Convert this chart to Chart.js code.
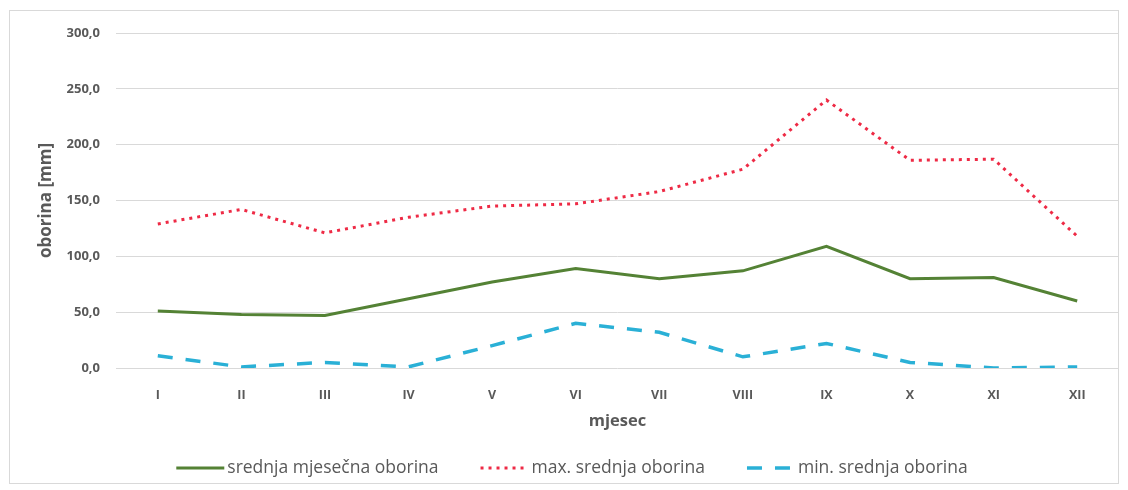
<!DOCTYPE html>
<html><head><meta charset="utf-8">
<script src="https://cdn.jsdelivr.net/npm/chart.js@4.4.0/dist/chart.umd.min.js"></script>
<style>html,body{margin:0;padding:0;background:#fff}#wrap{width:1128px;height:490px}</style>
</head><body><div id="wrap"><canvas id="c" width="1128" height="490"></canvas></div>
<script>
const months = ['I','II','III','IV','V','VI','VII','VIII','IX','X','XI','XII'];
const srednja = [51, 48, 47, 62, 77, 89, 80, 87, 109, 80, 81, 60];
const maxSrednja = [129, 142, 121, 135, 145, 147, 158, 178, 240, 186, 187, 118];
const minSrednja = [11, 1, 5, 1, 20, 40, 32, 10, 22, 5, 0, 1];
const yTicks = [0, 50, 100, 150, 200, 250, 300];

const FONT = "'Open Sans', 'Noto Sans', sans-serif";
const TXT = '#595959';

const bgBorder = {
  id: 'bgBorder',
  beforeDraw(chart) {
    const ctx = chart.ctx;
    ctx.save();
    ctx.fillStyle = '#fff';
    ctx.fillRect(0, 0, chart.width, chart.height);
    ctx.strokeStyle = '#d9d9d9';
    ctx.lineWidth = 1;
    ctx.strokeRect(9.5, 10.5, 1109, 473);
    ctx.restore();
  }
};

// legend drawn from the datasets (labels, colours, dash patterns)
const customLegend = {
  id: 'customLegend',
  afterDraw(chart) {
    const ctx = chart.ctx;
    const sets = chart.data.datasets;
    const markW = 48, gapIn = 3, gapOut = 42, centerX = 572, y = 468;
    ctx.save();
    ctx.font = "17.5px " + FONT;
    const widths = sets.map(d => ctx.measureText(d.label).width);
    const total = widths.reduce((a, b) => a + b, 0) + sets.length * (markW + gapIn) + (sets.length - 1) * gapOut;
    let x = centerX - total / 2;
    sets.forEach((d, i) => {
      ctx.beginPath();
      ctx.strokeStyle = d.borderColor;
      ctx.lineWidth = d.borderWidth;
      ctx.setLineDash(d.borderDash || []);
      ctx.moveTo(x, y);
      ctx.lineTo(x + markW, y);
      ctx.stroke();
      ctx.setLineDash([]);
      x += markW + gapIn;
      ctx.fillStyle = TXT;
      ctx.textBaseline = 'middle';
      ctx.textAlign = 'left';
      ctx.fillText(d.label, x, y);
      x += widths[i] + gapOut;
    });
    ctx.restore();
  }
};

new Chart(document.getElementById('c'), {
  type: 'line',
  data: {
    labels: months,
    datasets: [
      { label: 'srednja mjesečna oborina', data: srednja, borderColor: '#548235', backgroundColor: '#548235', borderWidth: 3, pointRadius: 0, tension: 0 },
      { label: 'max. srednja oborina', data: maxSrednja, borderColor: '#ee2a45', backgroundColor: '#ee2a45', borderWidth: 3, borderDash: [3, 5], pointRadius: 0, tension: 0 },
      { label: 'min. srednja oborina', data: minSrednja, borderColor: '#2ab0d6', backgroundColor: '#2ab0d6', borderWidth: 3.5, borderDash: [15, 13], pointRadius: 0, tension: 0 }
    ]
  },
  options: {
    responsive: false,
    animation: false,
    devicePixelRatio: 1,
    layout: { padding: { left: 30, right: 9, top: 33, bottom: 56 } },
    plugins: {
      legend: { display: false },
      tooltip: { enabled: false }
    },
    scales: {
      x: {
        offset: true,
        grid: { display: false },
        border: { display: false },
        ticks: { color: TXT, font: { family: FONT, size: 12.5, weight: 'bold' }, padding: 12, maxRotation: 0 },
        title: { display: true, text: 'mjesec', color: TXT, font: { family: FONT, size: 16.5, weight: 'bold' }, padding: { top: 0, bottom: 3 } },
        afterFit(s) { s.height = 66; }
      },
      y: {
        min: 0, max: 300,
        afterBuildTicks(s) { s.ticks = yTicks.map(v => ({ value: v })); },
        grid: { color: '#d9d9d9', lineWidth: 1, drawTicks: false },
        border: { display: false },
        ticks: {
          color: TXT, font: { family: FONT, size: 13, weight: 'bold' }, padding: 16,
          callback: v => v.toFixed(1).replace('.', ',')
        },
        title: { display: true, text: 'oborina [mm]', color: TXT, font: { family: FONT, size: 17, weight: 'bold' }, padding: 6 },
        afterFit(s) { s.width = 86; }
      }
    }
  },
  plugins: [bgBorder, customLegend]
});
</script></body></html>
